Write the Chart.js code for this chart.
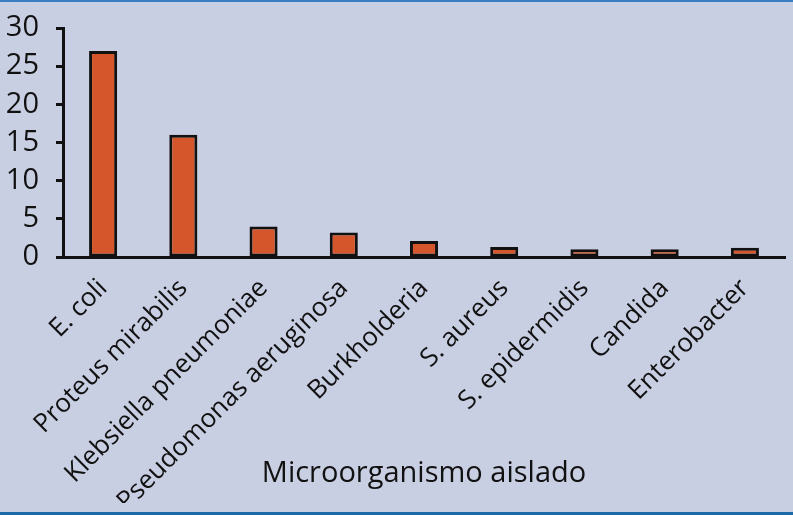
<!DOCTYPE html>
<html>
<head>
<meta charset="utf-8">
<script src="https://cdn.jsdelivr.net/npm/chart.js@4.4.1/dist/chart.umd.min.js"></script>
<style>
  html, body { margin: 0; padding: 0; background: #c9cfe3; }
  body { width: 793px; height: 515px; position: relative; overflow: hidden; }
  #chart { position: absolute; left: 0; top: 0; }
  .line-top { position: absolute; left: 0; top: 0; width: 793px; height: 2px; background: #3a7fc1; }
  .line-bottom { position: absolute; left: 0; top: 512px; width: 793px; height: 3px; background: #1d6aa9; }
</style>
</head>
<body>
<canvas id="chart" width="793" height="503"></canvas>
<div class="line-top"></div>
<div class="line-bottom"></div>
<script>
// ---------------------------
// Data
// ---------------------------
const organisms = [
    "E. coli",
    "Proteus mirabilis",
    "Klebsiella pneumoniae",
    "Pseudomonas aeruginosa",
    "Burkholderia",
    "S. aureus",
    "S. epidermidis",
    "Candida",
    "Enterobacter"
];
const counts = [27, 16, 4, 3.2, 2.1, 1.3, 1, 1, 1.2];
const yTicks = [0, 5, 10, 15, 20, 25, 30];
const xTitle = "Microorganismo aislado";

const FONT = "'Open Sans', Lato, sans-serif";
const INK = "#111111";

// ---------------------------
// Chart
// ---------------------------
const ctx = document.getElementById("chart").getContext("2d");

new Chart(ctx, {
    type: "bar",
    data: {
        labels: organisms,
        datasets: [{
            data: counts,
            backgroundColor: "#d5562b",
            borderColor: INK,
            borderWidth: 3,
            borderSkipped: false,
            barPercentage: 0.35,
            categoryPercentage: 1
        }]
    },
    options: {
        responsive: false,
        animation: false,
        layout: { padding: { top: 28, right: 8, left: 0, bottom: 0 } },
        plugins: {
            legend: { display: false },
            tooltip: { enabled: false }
        },
        scales: {
            x: {
                grid: { display: false },
                border: { display: true, color: INK, width: 3 },
                ticks: {
                    autoSkip: false,
                    minRotation: 45,
                    maxRotation: 45,
                    padding: 8,
                    color: INK,
                    font: { family: FONT, size: 26 }
                },
                title: {
                    display: true,
                    text: xTitle,
                    color: INK,
                    font: { family: FONT, size: 29 },
                    padding: { top: 0, bottom: 12 }
                },
                afterFit: s => { s.height = 246; }
            },
            y: {
                min: 0,
                max: 30,
                afterBuildTicks: s => { s.ticks = yTicks.map(v => ({ value: v })); },
                grid: {
                    display: true,
                    drawOnChartArea: false,
                    drawTicks: true,
                    tickLength: 7,
                    tickWidth: 3,
                    tickColor: INK
                },
                border: { display: true, color: INK, width: 3 },
                ticks: {
                    autoSkip: false,
                    padding: 17,
                    color: INK,
                    font: { family: FONT, size: 29 }
                },
                // fixed axis width; drop the label overhang padding so the top sits at 30
                afterFit: s => { s.width = 63; s.paddingTop = 0; }
            }
        }
    }
});
</script>
</body>
</html>
